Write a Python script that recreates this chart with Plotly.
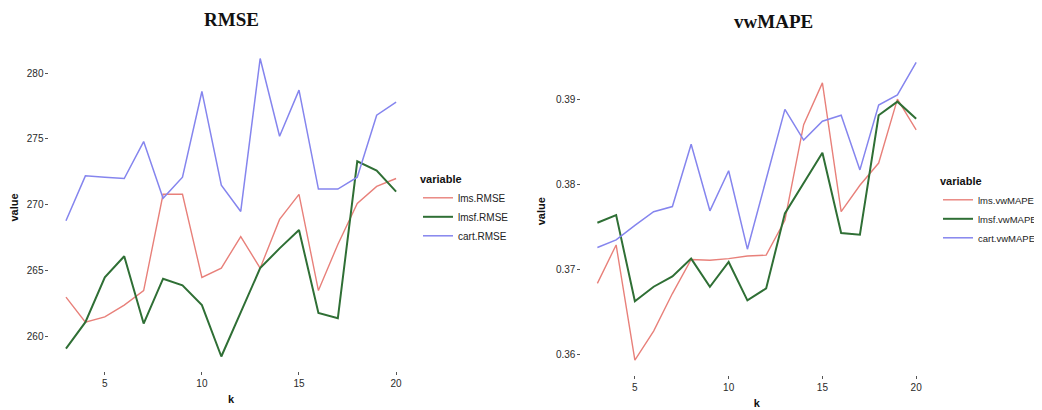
import plotly.graph_objects as go

k = list(range(3, 21))

lms_rmse = [263.0, 261.1, 261.5, 262.4, 263.5, 270.8, 270.8, 264.5, 265.2, 267.6,
            265.2, 268.9, 270.8, 263.5, 267.0, 270.1, 271.4, 272.0]
lmsf_rmse = [259.1, 261.1, 264.5, 266.1, 261.0, 264.4, 263.9, 262.4, 258.5, 261.9,
             265.2, 266.7, 268.1, 261.8, 261.4, 273.3, 272.6, 271.0]
cart_rmse = [268.8, 272.2, 272.1, 272.0, 274.8, 270.5, 272.1, 278.6, 271.5, 269.5,
             281.1, 275.2, 278.7, 271.2, 271.2, 272.1, 276.8, 277.8]

lms_vw = [0.3684, 0.3729, 0.3594, 0.3628, 0.3672, 0.3712, 0.3711, 0.3713, 0.3716, 0.3717,
          0.3758, 0.3870, 0.3919, 0.3768, 0.3799, 0.3825, 0.3900, 0.3864]
lmsf_vw = [0.3755, 0.3764, 0.3663, 0.3680, 0.3692, 0.3713, 0.3680, 0.3709, 0.3664, 0.3678,
           0.3766, 0.3801, 0.3837, 0.3743, 0.3741, 0.3881, 0.3897, 0.3877]
cart_vw = [0.3726, 0.3735, 0.3752, 0.3768, 0.3774, 0.3847, 0.3769, 0.3816, 0.3724, 0.3805,
           0.3888, 0.3852, 0.3874, 0.3881, 0.3817, 0.3893, 0.3905, 0.3943]

x_ticks = [5, 10, 15, 20]
rmse_ticks = [260, 265, 270, 275, 280]
vw_ticks = [0.36, 0.37, 0.38, 0.39]

RED = "#e8807a"
GREEN = "#2f6f35"
BLUE = "#8585ee"

# page has an 8px body margin; figure sized so it ends exactly at the window edge
OFF = 8
W, H = 1042 - OFF, 410 - OFF


def fx(x):
    return (x - OFF) / W


def fy(y):
    return (H - (y - OFF)) / H


fig = go.Figure()


def add(x, y, name, color, width, xa, ya, legend):
    fig.add_trace(go.Scatter(x=x, y=y, mode="lines", name=name,
                             line=dict(color=color, width=width),
                             xaxis=xa, yaxis=ya, legend=legend))


add(k, lms_rmse, "lms.RMSE", RED, 1.4, "x", "y", "legend")
add(k, lmsf_rmse, "lmsf.RMSE", GREEN, 2.0, "x", "y", "legend")
add(k, cart_rmse, "cart.RMSE", BLUE, 1.5, "x", "y", "legend")
add(k, lms_vw, "lms.vwMAPE", RED, 1.4, "x2", "y2", "legend2")
add(k, lmsf_vw, "lmsf.vwMAPE", GREEN, 2.0, "x2", "y2", "legend2")
add(k, cart_vw, "cart.vwMAPE", BLUE, 1.5, "x2", "y2", "legend2")

SANS = "Liberation Sans, Arial, sans-serif"
tickfont = dict(family=SANS, size=10, color="#2a2a2a")
titlefont = dict(family=SANS, size=11, color="#111111")


def xaxis(domain, anchor):
    return dict(domain=domain, range=[2.15, 20.85], tickvals=x_ticks, anchor=anchor,
                ticks="outside", ticklen=3, tickcolor="#555555", tickwidth=1,
                showgrid=False, zeroline=False, showline=False, automargin=False,
                tickfont=tickfont,
                title=dict(text="<b>k</b>", font=titlefont, standoff=7))


def yaxis(domain, rng, tv, anchor, fmt=None):
    d = dict(domain=domain, range=rng, tickvals=tv, anchor=anchor,
             ticks="outside", ticklen=3, tickcolor="#555555", tickwidth=1,
             showgrid=False, zeroline=False, showline=False, automargin=False,
             tickfont=tickfont,
             title=dict(text="<b>value</b>", font=titlefont, standoff=8))
    if fmt:
        d["tickformat"] = fmt
    return d


def legend(xpx, ypx, size):
    return dict(x=fx(xpx), y=fy(ypx), xanchor="left", yanchor="top",
                title=dict(text="<b>variable</b>", font=dict(size=11, color="#111111", family=SANS)),
                font=dict(size=size, color="#222222", family=SANS),
                bgcolor="rgba(0,0,0,0)", itemwidth=30, tracegroupgap=0)


fig.update_layout(
    width=W, height=H,
    margin=dict(l=0, r=0, t=0, b=0),
    paper_bgcolor="white", plot_bgcolor="white",
    xaxis=xaxis([fx(49.5), fx(413)], "y"),
    yaxis=yaxis([fy(371), fy(44)], [257.4, 282.2], rmse_ticks, "x"),
    xaxis2=xaxis([fx(582), fx(933)], "y2"),
    yaxis2=yaxis([fy(375), fy(47.5)], [0.35765, 0.39605], vw_ticks, "x2", ".2f"),
    legend=legend(418, 169, 10),
    legend2=legend(939, 171, 9.5),
    annotations=[
        dict(text="<b>RMSE</b>", x=fx(231.5), y=fy(19.5), xref="paper", yref="paper",
             showarrow=False, xanchor="center", yanchor="middle",
             font=dict(family="Liberation Serif, DejaVu Serif, serif", size=19, color="#111111")),
        dict(text="<b>vwMAPE</b>", x=fx(774), y=fy(21.5), xref="paper", yref="paper",
             showarrow=False, xanchor="center", yanchor="middle",
             font=dict(family="Liberation Serif, DejaVu Serif, serif", size=19, color="#111111")),
    ],
)

fig.write_html("out.html")
